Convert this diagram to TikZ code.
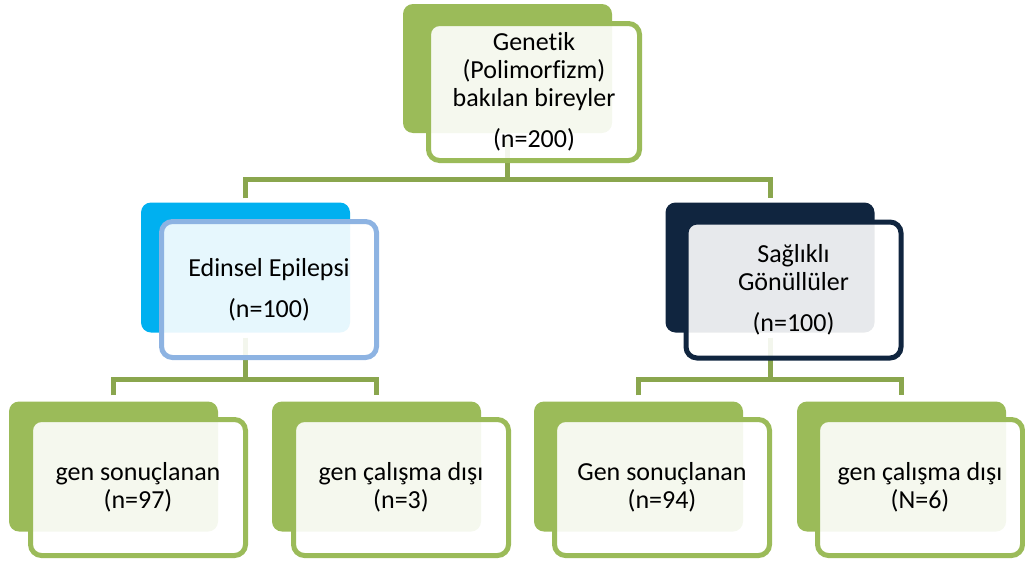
\documentclass[tikz,border=0pt]{standalone}
\usepackage{fontspec}
\setmainfont[Ligatures=NoCommon]{Carlito}
\usepackage{xcolor}
\usepackage{tikz}
\definecolor{ogreen}{HTML}{9BBB59}
\definecolor{oline}{HTML}{8AA64E}
\definecolor{oblue}{HTML}{00B0F0}
\definecolor{oblueedge}{HTML}{8DB3E2}
\definecolor{onavy}{HTML}{10253F}

\begin{document}
\begin{tikzpicture}[x=1pt,y=-1pt,
  font=\fontsize{26}{28}\selectfont,
  back/.style={rounded corners=10pt,inner sep=0pt,
               minimum width=209pt,minimum height=130pt},
  front/.style={line width=5pt,rounded corners=11pt,fill=white,
                fill opacity=0.9,text opacity=1,align=center,inner sep=0pt,
                minimum width=215pt,minimum height=136pt},
  conn/.style={draw=oline,line width=5pt}
]
\useasboundingbox (0,0) rectangle (1025,565);
% back plates
\node[back,fill=ogreen,minimum height=129pt] (topb) at (507.5,68.5) {};
\node[back,fill=oblue] (epb) at (245.5,267.5) {};
\node[back,fill=onavy] (hvb) at (770,267.5) {};
\node[back,fill=ogreen] (epokb) at (113.5,466.5) {};
\node[back,fill=ogreen] (epoutb) at (376.5,466.5) {};
\node[back,fill=ogreen] (hvokb) at (638.5,466.5) {};
\node[back,fill=ogreen] (hvoutb) at (901.5,466.5) {};
% connectors
\coordinate (bus1) at (507.5,179.5);
\coordinate (bus2) at (245.5,379);
\coordinate (bus3) at (770,379);
\draw[conn] ([yshift=-5pt]topb.south) -- (bus1);
\draw[conn] ([yshift=4pt]epb.north) |- (bus1) -| ([yshift=4pt]hvb.north);
\draw[conn] ([yshift=-5pt]epb.south) -- (bus2);
\draw[conn] ([yshift=6pt]epokb.north) |- (bus2) -| ([yshift=6pt]epoutb.north);
\draw[conn] ([yshift=-5pt]hvb.south) -- (bus3);
\draw[conn] ([yshift=6pt]hvokb.north) |- (bus3) -| ([yshift=6pt]hvoutb.north);
% front boxes
\node[front,draw=ogreen,minimum width=211pt,minimum height=137pt] (top) at (534,92)
  {Genetik\\(Polimorfizm)\\bakılan bireyler\\[13pt](n=200)};
\node[front,draw=oblueedge] (ep) at (269,289.5) {Edinsel Epilepsi\\[13pt](n=100)};
\node[front,draw=onavy] (hv) at (793.5,290) {Sağlıklı\\Gönüllüler\\[13pt](n=100)};
\node[front,draw=ogreen] (epok) at (138,487.5) {gen sonuçlanan\\(n=97)};
\node[front,draw=ogreen] (epout) at (401,487.5) {gen çalışma dışı\\(n=3)};
\node[front,draw=ogreen] (hvok) at (662,487.5) {Gen sonuçlanan\\(n=94)};
\node[front,draw=ogreen,minimum width=205pt] (hvout) at (920,487.5)
  {gen çalışma dışı\\(N=6)};
\end{tikzpicture}
\end{document}
